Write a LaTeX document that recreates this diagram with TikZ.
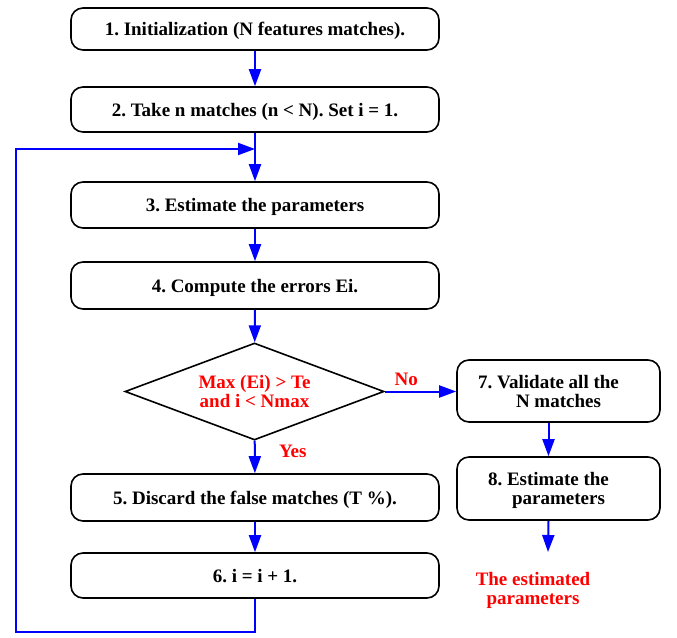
\documentclass[tikz,border=0pt]{standalone}
\usepackage{fontspec}
\setmainfont{Liberation Serif}
\usepackage{tikz}
\usetikzlibrary{arrows.meta,positioning,shapes.geometric}
\definecolor{flowblue}{HTML}{0000FF}
\definecolor{flowred}{HTML}{FF0000}
\tikzset{stepbox/.style={draw,line width=1.6pt,rounded corners=12pt,align=center,font=\fontsize{19}{19}\selectfont\bfseries,minimum width=368pt,minimum height=45pt,inner sep=0pt,text depth=0pt},sidebox/.style={stepbox,minimum width=203pt,minimum height=62pt},testbox/.style={draw,line width=1.6pt,diamond,aspect=2.67,minimum width=259pt,minimum height=97pt,inner sep=0pt,align=center,text=flowred,font=\fontsize{19}{19}\selectfont\bfseries,text depth=0pt},arr/.style={-{Triangle[length=17pt,width=12pt]},line width=2pt,draw=flowblue},lab/.style={text=flowred,font=\fontsize{19}{19}\selectfont\bfseries}}
\begin{document}
\frenchspacing
\begin{tikzpicture}[x=1pt,y=-1pt]
\useasboundingbox (0,0) rectangle (677,637);
\node[stepbox,minimum height=42pt] (init) at (255,29) {1. Initialization (N features matches).};
\node[stepbox] (take) at (255,109.5) {2. Take n matches (n < N). Set i = 1.};
\node[stepbox,minimum height=46pt] (est) at (255,205) {3. Estimate the parameters};
\node[stepbox,minimum height=47pt] (err) at (255,285.5) {4. Compute the errors Ei.};
\node[testbox] (test) at (254.5,391.5) {Max (Ei) > Te\\and i < Nmax};
\node[stepbox,minimum height=47pt] (discard) at (255,497.5) {5. Discard the false matches (T \%).};
\node[stepbox] (incr) at (255,575.5) {6. i = i + 1.};
\node[sidebox] (valid) at (558.5,391) {\hspace*{-20pt}7. Validate all the\\N matches};
\node[sidebox,minimum height=63pt] (final) at (558.5,488.5) {\hspace*{-20pt}8. Estimate the\\parameters};
\node[lab,align=center] (result) at (533,590) {The estimated\\parameters};
\coordinate (join) at (255,149);
\coordinate (loopbl) at (16,632);
\coordinate (outend) at (548,552);
% main flow
\draw[arr] (init) -- (take);
\draw[arr] (take) -- (est);
\draw[arr] (est) -- (err);
\draw[arr] (err) -- (test);
\draw[arr] (test) -- node[lab,pos=0.32,right=20pt] {Yes} (discard);
\draw[arr] (discard) -- (incr);
\draw[arr] (incr.south) |- (loopbl) |- (join);
% exit branch
\draw[arr] (test.east) -- node[lab,pos=0.3,above=1pt] {No} (test.east -| valid.west);
\draw[arr] ([xshift=-10pt]valid.south) -- ([xshift=-10pt]final.north);
\draw[arr] ([xshift=-10pt]final.south) -- (outend);
\end{tikzpicture}
\end{document}
